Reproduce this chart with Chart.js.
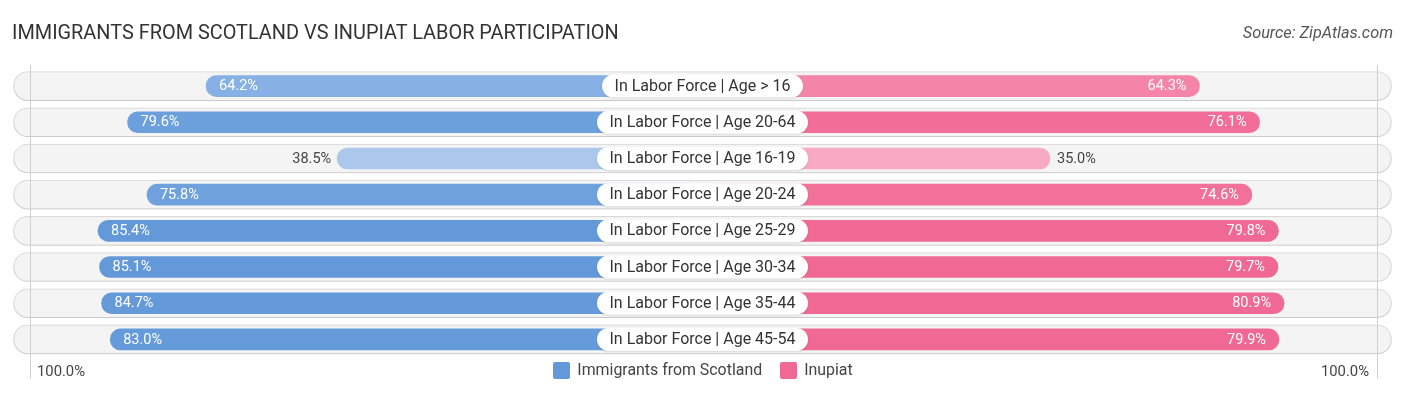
<!DOCTYPE html>
<html>
<head>
<meta charset="utf-8">
<script src="https://cdn.jsdelivr.net/npm/chart.js@4"></script>
<style>
  html, body { margin: 0; padding: 0; background: #fff; }
  #wrap { position: relative; width: 1406px; height: 395px; overflow: hidden; font-family: Roboto, "Noto Sans", sans-serif; }
  canvas { position: absolute; left: 0; top: 0; }
  .title { position: absolute; left: 12px; top: 22px; font-size: 19.9px; color: #333; letter-spacing: 0; line-height: 22px; white-space: nowrap; }
  .source { position: absolute; right: 13px; top: 24px; font-size: 16.3px; font-style: italic; color: #555; line-height: 18px; white-space: nowrap; }
  .edge { position: absolute; top: 362px; font-size: 14.8px; color: #444; line-height: 18px; }
  .legend { position: absolute; top: 361px; left: 0; width: 1406px; display: flex; justify-content: center; font-size: 15.9px; color: #444; line-height: 18px; }
  .legend .item { display: flex; align-items: center; margin: 0 9px; }
  .legend .sw { width: 17px; height: 17px; border-radius: 2px; margin-right: 7px; }
</style>
</head>
<body>
<div id="wrap">
  <canvas id="c" width="1406" height="395"></canvas>
  <div class="title" id="title"></div>
  <div class="source" id="source"></div>
  <div class="edge" id="edgeL" style="left:37px"></div>
  <div class="edge" id="edgeR" style="right:37px"></div>
  <div class="legend" id="legend"></div>
</div>
<script>
// ---- data ----
const titleText = "IMMIGRANTS FROM SCOTLAND VS INUPIAT LABOR PARTICIPATION";
const sourceText = "Source: ZipAtlas.com";
const categories = [
  "In Labor Force | Age > 16",
  "In Labor Force | Age 20-64",
  "In Labor Force | Age 16-19",
  "In Labor Force | Age 20-24",
  "In Labor Force | Age 25-29",
  "In Labor Force | Age 30-34",
  "In Labor Force | Age 35-44",
  "In Labor Force | Age 45-54"
];
const seriesNames = ["Immigrants from Scotland", "Inupiat"];
const scotland = [64.2, 79.6, 38.5, 75.8, 85.4, 85.1, 84.7, 83.0];
const inupiat  = [64.3, 76.1, 35.0, 74.6, 79.8, 79.7, 80.9, 79.9];
const edgeTicks = ["100.0%", "100.0%"];

// ---- styles ----
const blueColors = ["#87b1e4", "#6ca0dc", "#abc8ec", "#6fa2dd", "#6399d9", "#6399d9", "#649ad9", "#659bda"];
const pinkColors = ["#f585a8", "#f26e99", "#f8a9c4", "#f27199", "#f06894", "#f06894", "#f06894", "#f06894"];
const legendColors = ["#6399d9", "#f06894"];
const OFFSET = 33.14;   // half-width of the centre label gap, in value units
const RANGE = 135.4;    // half-width of the track, in value units

document.getElementById('title').textContent = titleText;
document.getElementById('source').textContent = sourceText;
document.getElementById('edgeL').textContent = edgeTicks[0];
document.getElementById('edgeR').textContent = edgeTicks[1];
const lg = document.getElementById('legend');
seriesNames.forEach((n, i) => {
  const it = document.createElement('div'); it.className = 'item';
  const sw = document.createElement('div'); sw.className = 'sw'; sw.style.background = legendColors[i];
  const tx = document.createElement('span'); tx.textContent = n;
  it.appendChild(sw); it.appendChild(tx); lg.appendChild(it);
});

const overlay = {
  id: 'overlay',
  beforeDatasetDraw(chart, args) {
    if (args.index === 0) {
      const ctx = chart.ctx;
      ctx.save();
      ctx.shadowColor = 'rgba(0,0,0,0.13)';
      ctx.shadowBlur = 3;
      ctx.shadowOffsetY = 1;
    }
  },
  afterDatasetDraw(chart, args) {
    if (args.index === 0) {
      const ctx = chart.ctx;
      ctx.restore();
      const a = chart.chartArea;
      ctx.save();
      ctx.strokeStyle = '#d0d0d0';
      ctx.lineWidth = 1;
      [a.left + 18.5, a.right - 15.5].forEach(x => {
        ctx.beginPath(); ctx.moveTo(x, 65); ctx.lineTo(x, 379); ctx.stroke();
      });
      ctx.restore();
    }
  },
  afterDatasetsDraw(chart) {
    const ctx = chart.ctx;
    const xs = chart.scales.x;
    const cx = xs.getPixelForValue(0);
    const leftMeta = chart.getDatasetMeta(1);
    const rightMeta = chart.getDatasetMeta(2);
    ctx.save();
    ctx.textBaseline = 'middle';
    ctx.font = '14.5px Roboto, "Noto Sans", sans-serif';
    leftMeta.data.forEach((bar, i) => {
      const v = scotland[i];
      const t = v.toFixed(1) + '%';
      if (v >= 50) { ctx.fillStyle = '#fff'; ctx.textAlign = 'left'; ctx.fillText(t, bar.x + 13, bar.y + 0.5); }
      else { ctx.fillStyle = '#444'; ctx.textAlign = 'right'; ctx.fillText(t, bar.x - 6, bar.y + 0.5); }
    });
    rightMeta.data.forEach((bar, i) => {
      const v = inupiat[i];
      const t = v.toFixed(1) + '%';
      if (v >= 50) { ctx.fillStyle = '#fff'; ctx.textAlign = 'right'; ctx.fillText(t, bar.x - 13, bar.y + 0.5); }
      else { ctx.fillStyle = '#444'; ctx.textAlign = 'left'; ctx.fillText(t, bar.x + 7, bar.y + 0.5); }
    });
    // centre pills
    ctx.font = '16px Roboto, "Noto Sans", sans-serif';
    leftMeta.data.forEach((bar, i) => {
      const t = categories[i];
      const w = ctx.measureText(t).width + 25;
      const h = 23;
      const x0 = cx - w / 2, y0 = bar.y - h / 2;
      ctx.save();
      ctx.shadowColor = 'rgba(0,0,0,0.12)';
      ctx.shadowBlur = 2;
      ctx.shadowOffsetY = 1;
      ctx.fillStyle = '#fff';
      ctx.beginPath();
      ctx.roundRect(x0, y0, w, h, h / 2);
      ctx.fill();
      ctx.restore();
      ctx.fillStyle = '#333';
      ctx.textAlign = 'center';
      ctx.fillText(t, cx, bar.y + 0.5);
    });
    ctx.restore();
  }
};

new Chart(document.getElementById('c'), {
  type: 'bar',
  data: {
    labels: categories,
    datasets: [
      {
        label: 'track',
        data: categories.map(() => [-RANGE + 0.3, RANGE - 0.3]),
        backgroundColor: '#f4f4f4',
        borderColor: '#dcdcdc',
        borderWidth: 1,
        borderSkipped: false,
        borderRadius: 15,
        barThickness: 29,
        grouped: false,
        order: 3
      },
      {
        label: seriesNames[0],
        data: scotland.map(v => -(v + OFFSET)),
        backgroundColor: blueColors,
        borderSkipped: false,
        borderRadius: 10.5,
        barThickness: 21,
        grouped: false,
        order: 2
      },
      {
        label: seriesNames[1],
        data: inupiat.map(v => v + OFFSET),
        backgroundColor: pinkColors,
        borderSkipped: false,
        borderRadius: 10.5,
        barThickness: 21,
        grouped: false,
        order: 1
      }
    ]
  },
  options: {
    indexAxis: 'y',
    responsive: false,
    animation: false,
    devicePixelRatio: 1,
    layout: { padding: { left: 12, right: 13, top: 68, bottom: 37.5 } },
    scales: {
      x: { display: false, min: -RANGE, max: RANGE },
      y: { display: false }
    },
    plugins: { legend: { display: false }, tooltip: { enabled: false } }
  },
  plugins: [overlay]
});
</script>
</body>
</html>
